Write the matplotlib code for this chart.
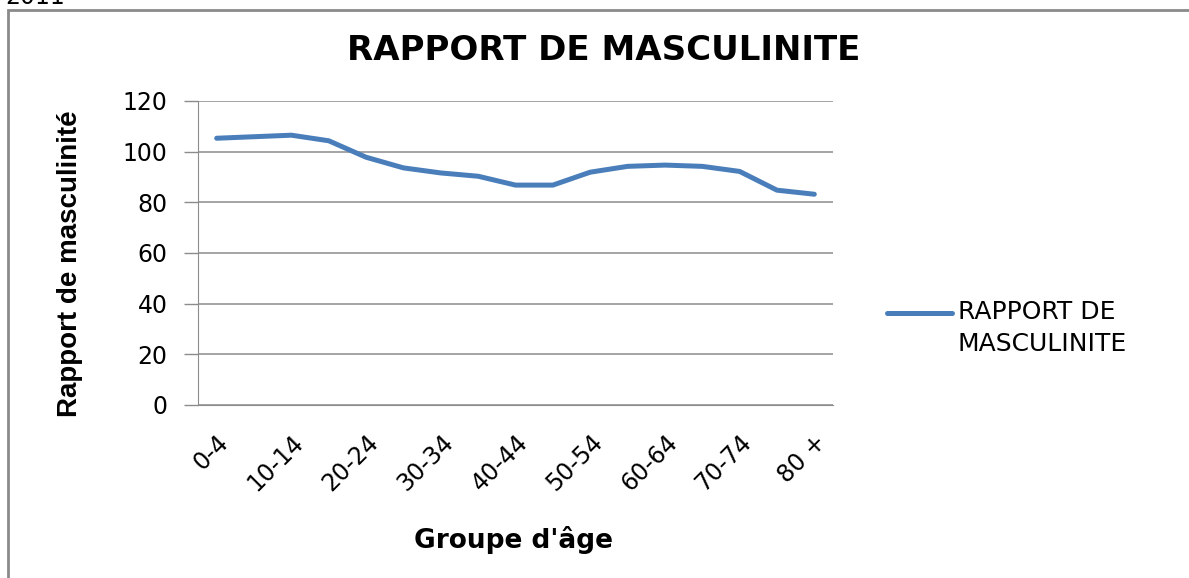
import matplotlib
matplotlib.use("Agg")
import matplotlib.pyplot as plt
from matplotlib.patches import Rectangle
from matplotlib.lines import Line2D

# age groups and sex ratio (men per 100 women)
age_groups = ['0-4', '5-9', '10-14', '15-19', '20-24', '25-29', '30-34', '35-39',
              '40-44', '45-49', '50-54', '55-59', '60-64', '65-69', '70-74', '75-79', '80 +']
ratio = [105.3, 105.9, 106.5, 104.3, 97.8, 93.6, 91.6, 90.3,
         86.8, 86.8, 91.9, 94.2, 94.7, 94.2, 92.2, 84.8, 83.2]
y_ticks = [0, 20, 40, 60, 80, 100, 120]

series_name = "RAPPORT DE\nMASCULINITE"
line_color = '#4a7ebb'
grid_color = '#8c8c8c'

W, H = 1189, 578
fig = plt.figure(figsize=(W / 100, H / 100), dpi=100)
ax = fig.add_axes([198 / W, 1 - 405 / H, (833 - 198) / W, (405 - 101) / H])

x = list(range(len(age_groups)))
ax.plot(x, ratio, color=line_color, lw=3.6, solid_capstyle='round',
        solid_joinstyle='round', zorder=3)

ax.set_xlim(-0.5, len(age_groups) - 0.5)
ax.set_ylim(0, 120)
ax.set_yticks(y_ticks)
ax.yaxis.grid(True, color=grid_color, lw=1.1)
ax.set_axisbelow(True)

# every other age group is labelled, like the original
ax.set_xticks(x[::2])
ax.set_xticklabels(age_groups[::2], rotation=45, ha='right', va='top',
                   rotation_mode='anchor', fontsize=17)
ax.tick_params(axis='x', length=0, pad=18)
ax.tick_params(axis='y', length=10, width=1, color=grid_color, pad=12, labelsize=17)

for s in ['top', 'right']:
    ax.spines[s].set_visible(False)
ax.spines['left'].set_color(grid_color)
ax.spines['bottom'].set_color(grid_color)

ax.set_ylabel("Rapport de masculinité", family=['Liberation Sans', 'DejaVu Sans'],
              fontweight='bold', fontsize=20)
ax.yaxis.set_label_coords((83 - 198) / 635, 0.464)

fig.text(0.508, 1 - 50 / H, "RAPPORT DE MASCULINITE", ha='center', va='center',
         fontsize=24.5, fontweight='bold')
fig.text(513 / W, 1 - 540 / H, "Groupe d'âge", ha='center', va='center',
         fontsize=19, fontweight='bold')
fig.text(5 / W, 1 + 3 / H, "2011", ha='left', va='center', fontsize=17)

# legend: line next to the first line of the two-line label
fig.add_artist(Line2D([887 / W, 952 / W], [1 - 313 / H, 1 - 313 / H], transform=fig.transFigure,
                      color=line_color, lw=3.6, solid_capstyle='round'))
fig.text(958 / W, 1 - 300 / H, series_name, ha='left', va='top', fontsize=18,
         linespacing=1.4)

# outer chart border
fig.add_artist(Rectangle((8 / W, -0.05), 1.1, 1 - 10 / H + 0.05,
                         transform=fig.transFigure, fill=False, edgecolor='#8a8a8a', lw=2))

fig.savefig("out.png", dpi=100)
